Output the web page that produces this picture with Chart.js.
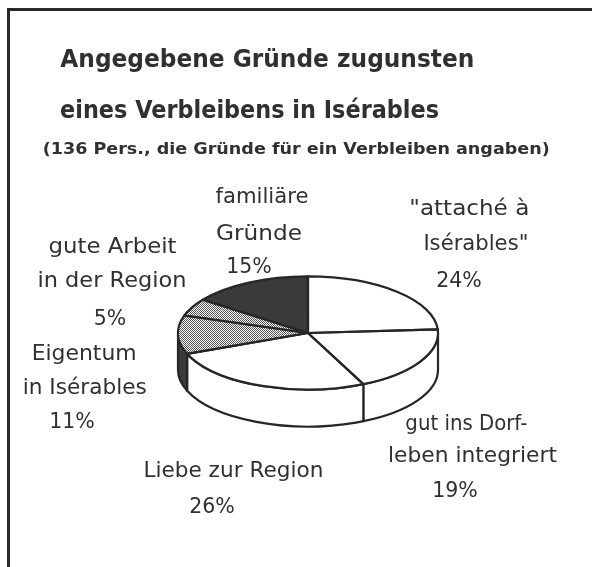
<!DOCTYPE html>
<html><head><meta charset="utf-8">
<script src="https://cdn.jsdelivr.net/npm/chart.js@4.4.1/dist/chart.umd.min.js"></script>
<style>
html,body{margin:0;padding:0;background:#fff;}
#wrap{position:relative;width:592px;height:567px;overflow:hidden;background:#fff;}
#frame{position:absolute;left:7px;top:8px;width:620px;height:620px;border-top:3px solid #2a2a2a;border-left:3px solid #2a2a2a;}
#c{position:absolute;left:0;top:0;}
.t{position:absolute;white-space:nowrap;line-height:1;color:#303030;font-family:"DejaVu Sans";transform-origin:50% 50%;}
</style></head><body>
<div id="wrap"><div id="frame"></div><canvas id="c" width="592" height="567"></canvas><div id="txt"></div></div>
<script>
// ---- data ----
const categories = [
  ['"attaché à', 'Isérables"'],
  ['gut ins Dorf-', 'leben integriert'],
  ['Liebe zur Region'],
  ['Eigentum', 'in Isérables'],
  ['gute Arbeit', 'in der Region'],
  ['familiäre', 'Gründe']
];
const values = [24, 19, 26, 11, 5, 15];
const titleLines = ['Angegebene Gründe zugunsten', 'eines Verbleibens in Isérables'];
const subtitle = '(136 Pers., die Gründe für ein Verbleiben angaben)';

// ---- styles / layout ----
const LINE = '#262626';
const DARK = '#3a3a3a';
const K = 0.435;      // vertical squash of the pie
const DEPTH = 37;     // thickness of the pie wall

function makeDots() {
  const c = document.createElement('canvas'); c.width = 2; c.height = 2;
  const g = c.getContext('2d');
  g.fillStyle = '#fff'; g.fillRect(0, 0, 2, 2);
  g.fillStyle = '#555555'; g.fillRect(0, 0, 1, 1); g.fillRect(1, 1, 1, 1);
  return g.createPattern(c, 'repeat');
}
const dots1 = makeDots(), dots2 = makeDots();
const patterns = [dots1, dots2];
const faceColors = ['#ffffff', '#ffffff', '#ffffff', dots1, dots2, DARK];
const wallColors = ['#ffffff', '#ffffff', '#ffffff', DARK, DARK, DARK];

const pie3d = {
  id: 'pie3d',
  beforeDatasetsDraw(chart) {
    const ctx = chart.ctx;
    const arcs = chart.getDatasetMeta(0).data;
    const cx = arcs[0].x, cy = arcs[0].y, r = arcs[0].outerRadius;
    ctx.save();
    ctx.lineWidth = 2.2; ctx.strokeStyle = LINE; ctx.lineJoin = 'round';
    arcs.forEach((a, i) => {
      for (const off of [0, 2 * Math.PI, -2 * Math.PI]) {
        const a1 = Math.max(a.startAngle + off, 0), a2 = Math.min(a.endAngle + off, Math.PI);
        if (a2 > a1 + 1e-6) {
          ctx.beginPath();
          ctx.ellipse(cx, cy, r, r * K, 0, a1, a2);
          ctx.lineTo(cx + r * Math.cos(a2), cy + DEPTH + r * K * Math.sin(a2));
          ctx.ellipse(cx, cy + DEPTH, r, r * K, 0, a2, a1, true);
          ctx.closePath();
          ctx.fillStyle = wallColors[i]; ctx.fill(); ctx.stroke();
        }
      }
    });
    ctx.restore();
    ctx.save();
    ctx.translate(cx, cy); ctx.scale(1, K); ctx.translate(-cx, -cy);
    const m = new DOMMatrix().translate(cx, cy).scale(1, 1 / K).translate(-cx, -cy);
    patterns.forEach(p => p.setTransform(m));
  },
  afterDatasetsDraw(chart) {
    const ctx = chart.ctx;
    ctx.restore();
    const arcs = chart.getDatasetMeta(0).data;
    const cx = arcs[0].x, cy = arcs[0].y, r = arcs[0].outerRadius;
    ctx.save();
    ctx.lineWidth = 2.2; ctx.strokeStyle = LINE; ctx.lineJoin = 'round';
    arcs.forEach(a => {
      ctx.beginPath();
      ctx.moveTo(cx, cy);
      ctx.lineTo(cx + r * Math.cos(a.startAngle), cy + r * K * Math.sin(a.startAngle));
      ctx.ellipse(cx, cy, r, r * K, 0, a.startAngle, a.endAngle);
      ctx.closePath();
      ctx.stroke();
    });
    ctx.restore();
  }
};

new Chart(document.getElementById('c'), {
  type: 'pie',
  data: {
    labels: categories.map(c => c.join(' ')),
    datasets: [{ data: values, backgroundColor: faceColors, borderWidth: 0, clip: false }]
  },
  options: {
    responsive: false, animation: false, devicePixelRatio: 1, events: [],
    layout: { padding: { left: 178, right: 154, top: 203, bottom: 104 } },
    plugins: { legend: { display: false }, tooltip: { enabled: false }, title: { display: false } }
  },
  plugins: [pie3d]
});

// ---- text ----
const txt = document.getElementById('txt');
function addText(str, cx, base, w, size, weight) {
  const d = document.createElement('div');
  d.className = 't'; d.textContent = str;
  d.style.fontSize = size + 'px'; d.style.fontWeight = weight;
  txt.appendChild(d);
  const mw = d.getBoundingClientRect().width;
  d.style.left = (cx - mw / 2) + 'px';
  d.style.top = (base - 0.846 * size) + 'px';
  if (w) d.style.transform = 'scaleX(' + (w / mw) + ')';
}
// [centerX, baseline, width] for each line of each label (last = percentage)
const labelPos = [
  [[469, 215, 120], [476, 250, 105], [459, 287, 0]],
  [[466, 430, 122], [472, 462, 169], [455, 497, 0]],
  [[233, 477, 180], [212, 513, 0]],
  [[84, 360, 105], [85, 394, 124], [72, 428, 0]],
  [[112, 253, 128], [112, 287, 149], [110, 325, 0]],
  [[262, 203, 93], [259, 240, 86], [249, 273, 0]]
];
const titlePos = [[267, 67, 414], [249.5, 118, 379]];
const subPos = [296.5, 154.5, 507];
titleLines.forEach((s, i) => addText(s, titlePos[i][0], titlePos[i][1], titlePos[i][2], 25, 'bold'));
addText(subtitle, subPos[0], subPos[1], subPos[2], 16, 'bold');
categories.forEach((lines, i) => {
  const all = lines.concat([values[i] + '%']);
  all.forEach((s, j) => { const p = labelPos[i][j]; addText(s, p[0], p[1], p[2], 20.5, 'normal'); });
});
</script>
</body></html>
